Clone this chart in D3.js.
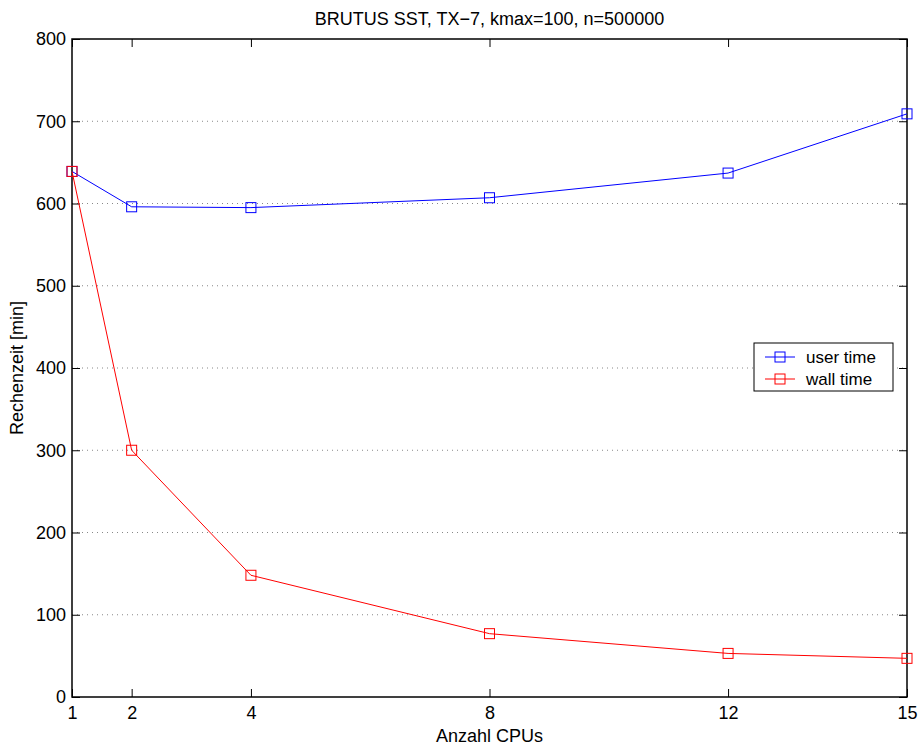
<!DOCTYPE html>
<html>
<head>
<meta charset="utf-8">
<script src="https://cdn.jsdelivr.net/npm/d3@7"></script>
<style>
  body { margin: 0; background: #fff; }
  svg text { font-family: "Liberation Sans", Arial, sans-serif; fill: #000; }
</style>
</head>
<body>
<svg id="chart" width="919" height="747"></svg>
<script>
var cpus = [1, 2, 4, 8, 12, 15]
var userTime = [639, 596, 595, 607, 637, 709]
var wallTime = [639, 300, 148, 77, 53, 47]
var xTicks = [1, 2, 4, 8, 12, 15]
var yTicks = [0, 100, 200, 300, 400, 500, 600, 700, 800]
var seriesNames = ["user time", "wall time"]
var seriesColors = ["#0000ff", "#ff0000"]

var margin = { top: 39, bottom: 50, left: 72, right: 12 }
var svg = d3.select("#chart")
var width = 919, height = 747
var chartWidth = width - margin.left - margin.right
var chartHeight = height - margin.top - margin.bottom

var g = svg.append("g")
    .attr("transform", `translate(${margin.left}, ${margin.top})`)

var xScale = d3.scaleLinear().domain([1, 15]).range([0, chartWidth])
var yScale = d3.scaleLinear().domain([0, 800]).range([chartHeight, 0])

// horizontal dotted grid
g.selectAll(".grid")
    .data(yTicks.filter(d => d > 0 && d < 800))
    .enter().append("line")
    .attr("x1", 0).attr("x2", chartWidth)
    .attr("y1", d => yScale(d)).attr("y2", d => yScale(d))
    .attr("stroke", "#888").attr("stroke-width", 1)
    .attr("stroke-dasharray", "1,4")

// axes with inward ticks
var xAxis = d3.axisBottom(xScale).tickValues(xTicks).tickSizeInner(-8).tickSizeOuter(0).tickPadding(9)
var xAxisTop = d3.axisTop(xScale).tickValues(xTicks).tickSizeInner(-8).tickSizeOuter(0).tickFormat("")
var yAxis = d3.axisLeft(yScale).tickValues(yTicks).tickSizeInner(-8).tickSizeOuter(0).tickPadding(6)
var yAxisRight = d3.axisRight(yScale).tickValues(yTicks).tickSizeInner(-8).tickSizeOuter(0).tickFormat("")

function styleAxis(sel) {
    sel.select(".domain").remove()
    sel.selectAll("line").attr("stroke", "#000")
    sel.selectAll("text").style("font-size", "18px").attr("fill", "#000")
}
g.append("g").attr("transform", `translate(0,${chartHeight})`).call(xAxis).call(styleAxis)
g.append("g").call(xAxisTop).call(styleAxis)
g.append("g").call(yAxis).call(styleAxis)
g.append("g").attr("transform", `translate(${chartWidth},0)`).call(yAxisRight).call(styleAxis)

g.append("rect")
    .attr("width", chartWidth).attr("height", chartHeight)
    .attr("fill", "none").attr("stroke", "#000").attr("stroke-width", 1.5)

var line = d3.line().x(d => xScale(d[0])).y(d => yScale(d[1]))
var allSeries = [userTime, wallTime]

allSeries.forEach(function (vals, i) {
    var pts = cpus.map((c, j) => [c, vals[j]])
    g.append("path")
        .datum(pts)
        .attr("d", line)
        .attr("fill", "none")
        .attr("stroke", seriesColors[i])
        .attr("stroke-width", 1)
    g.selectAll(".m" + i)
        .data(pts)
        .enter().append("rect")
        .attr("x", d => xScale(d[0]) - 5)
        .attr("y", d => yScale(d[1]) - 5)
        .attr("width", 10).attr("height", 10)
        .attr("fill", "none")
        .attr("stroke", seriesColors[i])
        .attr("stroke-width", 1)
})

// legend
var legend = svg.append("g").attr("transform", "translate(754,343)")
legend.append("rect")
    .attr("width", 139).attr("height", 48)
    .attr("fill", "#fff").attr("stroke", "#000").attr("stroke-width", 1)
seriesNames.forEach(function (name, i) {
    var yy = 14 + i * 22
    legend.append("line")
        .attr("x1", 11).attr("x2", 41).attr("y1", yy).attr("y2", yy)
        .attr("stroke", seriesColors[i])
    legend.append("rect")
        .attr("x", 21).attr("y", yy - 5).attr("width", 10).attr("height", 10)
        .attr("fill", "none").attr("stroke", seriesColors[i])
    legend.append("text")
        .attr("x", 52).attr("y", yy + 6)
        .style("font-size", "17px")
        .text(name)
})

svg.append("text")
    .attr("x", margin.left + chartWidth / 2).attr("y", 25)
    .attr("text-anchor", "middle").style("font-size", "18px")
    .text("BRUTUS SST, TX\u22127, kmax=100, n=500000")

svg.append("text")
    .attr("x", margin.left + chartWidth / 2).attr("y", 742)
    .attr("text-anchor", "middle").style("font-size", "18px")
    .text("Anzahl CPUs")

svg.append("text")
    .attr("transform", `translate(23, ${margin.top + chartHeight / 2}) rotate(-90)`)
    .attr("text-anchor", "middle").style("font-size", "18px")
    .text("Rechenzeit [min]")
</script>
</body>
</html>
